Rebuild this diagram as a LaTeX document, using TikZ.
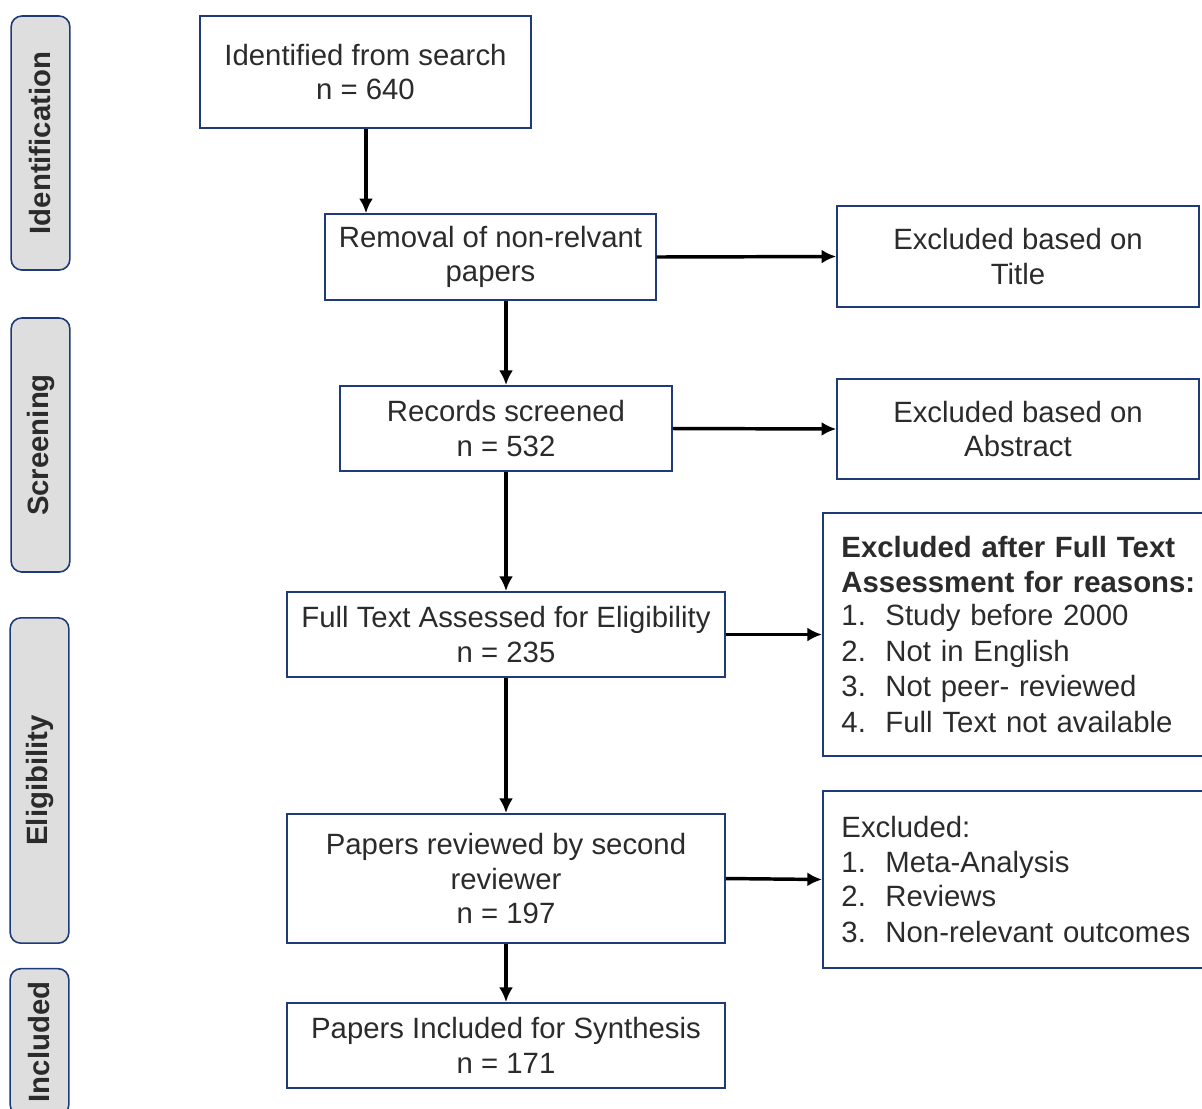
\documentclass[tikz,border=0pt]{standalone}
\usepackage{fontspec}
\setmainfont{Liberation Sans}
\usepackage{tikz}
\usetikzlibrary{positioning}
\usetikzlibrary{arrows.meta}

\definecolor{boxline}{HTML}{1F3A78}
\definecolor{sidefill}{HTML}{DEDEDE}
\definecolor{txtgray}{HTML}{2B2B2B}

\newcommand{\itm}[2]{\makebox[33pt][l]{#1}#2}

\begin{document}
\begin{tikzpicture}[
        x = 0.75pt, y = -0.75pt,
        font = \fontsize{22}{26}\selectfont,
        box/.style = {
            draw = boxline,
            line width = 1.2pt,
            text = txtgray,
            align = center,
            inner sep = 0pt,
            minimum width = #1
        },
        box/.default = 248pt,
        listbox/.style = {
            draw = boxline,
            line width = 1.2pt,
            text = txtgray,
            align = left,
            inner xsep = 14pt,
            text width = 290pt,
            anchor = west
        },
        side/.style = {
            draw = boxline,
            fill = sidefill,
            line width = 1.2pt,
            rounded corners = 8pt,
            minimum width = 44pt,
            minimum height = #1,
            inner sep = 0pt
        },
        sidetext/.style = {
            rotate = 90,
            text = txtgray,
            font = \fontsize{22}{26}\selectfont\bfseries
        },
        arr/.style = {
            -{Latex[length=11pt, width=10.5pt]},
            line width = 2.6pt
        }
        ]
        \useasboundingbox (0,0) rectangle (1202,1108);
%
% stage labels on the left
        \node[side=190.5pt] (sideid) at (40.5,143) {};
        \node[sidetext] at (sideid) {Identification};
        \node[side=190.5pt] (sidescr) at (40.5,445) {};
        \node[sidetext] at (sidescr) {Screening};
        \node[side=244pt] (sideel) at (39.5,780.5) {};
        \node[sidetext] at (sideel) {Eligibility};
        \node[side=110pt] (sideinc) at (39.5,1042) {};
        \node[sidetext] at (sideinc) {Included};
%
% main column
        \node[box, minimum height=84pt] (ident) at (365.5,72) {Identified from search\\n = 640};
        \node[box, minimum height=64.5pt] (removal) at (490.5,257) {Removal of non-relvant\\papers};
        \node[box=249pt, minimum height=64pt] (screen) at (506,428.5) {Records screened\\n = 532};
        \node[box=328.5pt, minimum height=64pt] (full) at (506,634.5) {Full Text Assessed for Eligibility\\n = 235};
        \node[box=328.5pt, minimum height=97pt] (second) at (506,878.5) {Papers reviewed by second\\reviewer\\n = 197};
        \node[box=328.5pt, minimum height=64pt] (incl) at (506,1045.5) {Papers Included for Synthesis\\n = 171};
%
% exclusions on the right
        \node[box=271.5pt, minimum height=75.75pt] (extitle) at (1018,256.5) {Excluded based on\\Title};
        \node[box=271.5pt, minimum height=75pt] (exabs) at (1018,429) {Excluded based on\\Abstract};
        \node[listbox, minimum height=182pt] (exfull) at (822,634.5) {%
            \textbf{Excluded after Full Text}\\
            \textbf{Assessment for reasons:}\\[-1pt]
            \itm{1.}{Study before 2000}\\[1pt]
            \itm{2.}{Not in English}\\
            \itm{3.}{Not peer- reviewed}\\[1pt]
            \itm{4.}{Full Text not available}};
        \node[listbox, minimum height=133pt] (exsecond) at (822,879.5) {%
            Excluded:\\
            \itm{1.}{Meta-Analysis}\\
            \itm{2.}{Reviews}\\[1pt]
            \itm{3.}{Non-relevant outcomes}};
%
% arrows down
        \draw[arr] (ident.south -| 366,0) -- (removal.north -| 366,0);
        \draw[arr] (screen.north |- removal.south) -- (screen.north);
        \draw[arr] (screen.south) -- (full.north);
        \draw[arr] (full.south) -- (second.north);
        \draw[arr] (second.south) -- (incl.north);
%
% arrows right
        \draw[arr] (removal.east) -- (extitle.west);
        \draw[arr] (screen.east) -- (exabs.west);
        \draw[arr] (full.east) -- (exfull.west);
        \draw[arr] (second.east) -- (exsecond.west);
    \end{tikzpicture}
\end{document}
